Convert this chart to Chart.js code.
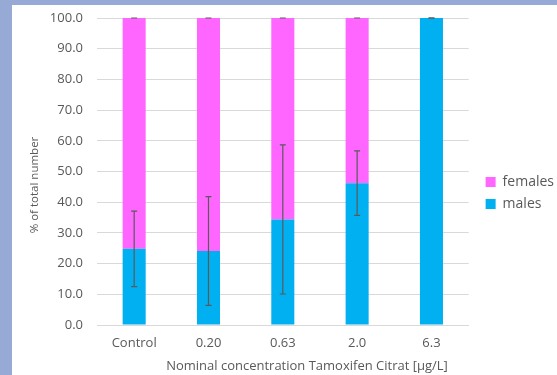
<!DOCTYPE html>
<html>
<head>
<meta charset="utf-8">
<script src="https://cdn.jsdelivr.net/npm/chart.js@4/dist/chart.umd.min.js"></script>
<style>
  html, body { margin: 0; padding: 0; }
  body { width: 557px; height: 375px; background: #97aad6; overflow: hidden; position: relative; }
  #wrap { position: absolute; left: 12px; top: 5px; width: 545px; height: 370px; background: #ffffff; }
</style>
</head>
<body>
<div id="wrap"><canvas id="myChart" width="545" height="370"></canvas></div>
<script>
const categories = ["Control", "0.20", "0.63", "2.0", "6.3"];
const males = [24.8, 24.1, 34.4, 46.2, 100];
const malesErr = [12.3, 17.7, 24.3, 10.5, 0];
const females = [75.2, 75.9, 65.6, 53.8, 0];
const femalesErr = [0, 0, 0, 0, 0];
const yTicks = [0, 10, 20, 30, 40, 50, 60, 70, 80, 90, 100];
const xTitle = "Nominal concentration Tamoxifen Citrat [µg/L]";
const yTitle = "% of total number";

const grey = '#595959';
const fontFamily = '"Open Sans", "Noto Sans", sans-serif';

// draws the error bars on top of each bar segment, using the chart scales
const errorBars = {
  id: 'errorBars',
  afterDatasetsDraw(chart) {
    const {ctx, scales: {x, y}} = chart;
    ctx.save();
    ctx.strokeStyle = '#5a5a5a';
    ctx.lineWidth = 1.2;
    categories.forEach((cat, i) => {
      const px = x.getPixelForValue(i);
      const bars = [
        {top: males[i], err: malesErr[i]},
        {top: males[i] + females[i], err: femalesErr[i]}
      ];
      for (const b of bars) {
        const y1 = y.getPixelForValue(b.top + b.err);
        const y2 = y.getPixelForValue(b.top - b.err);
        ctx.beginPath();
        ctx.moveTo(px, y1); ctx.lineTo(px, y2);
        ctx.moveTo(px - 3, y1); ctx.lineTo(px + 3, y1);
        ctx.moveTo(px - 3, y2); ctx.lineTo(px + 3, y2);
        ctx.stroke();
      }
    });
    ctx.restore();
  }
};

// axis titles, placed like in the original (not centred on the plot area)
const axisTitles = {
  id: 'axisTitles',
  afterLayout(chart) {
    // nudge the legend a little to the right and down
    chart.legend.left += 9;
    chart.legend.right += 9;
    chart.legend.top += 3;
    chart.legend.bottom += 3;
  },
  afterDraw(chart) {
    const {ctx} = chart;
    ctx.save();
    ctx.fillStyle = grey;
    ctx.textAlign = 'center';
    ctx.textBaseline = 'middle';
    ctx.font = '13px ' + fontFamily;
    ctx.fillText(xTitle, 295, 361);
    ctx.translate(23, 180);
    ctx.rotate(-Math.PI / 2);
    ctx.font = '11.5px ' + fontFamily;
    ctx.fillText(yTitle, 0, 0);
    ctx.restore();
  }
};

const context = document.getElementById('myChart').getContext('2d');
new Chart(context, {
  type: 'bar',
  data: {
    labels: categories,
    datasets: [
      {label: 'males', data: males, backgroundColor: '#00b0f0', barPercentage: 0.31, categoryPercentage: 1},
      {label: 'females', data: females, backgroundColor: '#ff66ff', barPercentage: 0.31, categoryPercentage: 1}
    ]
  },
  options: {
    responsive: false,
    animation: false,
    layout: {padding: {top: 0, right: 2, bottom: 0, left: 0}},
    plugins: {
      legend: {
        position: 'right',
        reverse: true,
        labels: {boxWidth: 10, boxHeight: 10, padding: 8, color: grey, font: {family: fontFamily, size: 14}}
      },
      tooltip: {enabled: false}
    },
    scales: {
      x: {
        stacked: true,
        afterFit: axis => { axis.height = 50; },
        grid: {display: false},
        border: {color: '#d9d9d9'},
        ticks: {color: grey, font: {family: fontFamily, size: 13}, padding: 2}
      },
      y: {
        stacked: true,
        min: 0,
        max: 100,
        afterFit: axis => {
          axis.width = 85;
          axis.paddingTop = 13;
          axis.paddingBottom = 0;
        },
        afterBuildTicks: axis => { axis.ticks = yTicks.map(v => ({value: v})); },
        grid: {color: '#d9d9d9', drawTicks: false},
        border: {display: false},
        ticks: {color: grey, font: {family: fontFamily, size: 13}, padding: 14, callback: v => v.toFixed(1)}
      }
    }
  },
  plugins: [errorBars, axisTitles]
});
</script>
</body>
</html>
